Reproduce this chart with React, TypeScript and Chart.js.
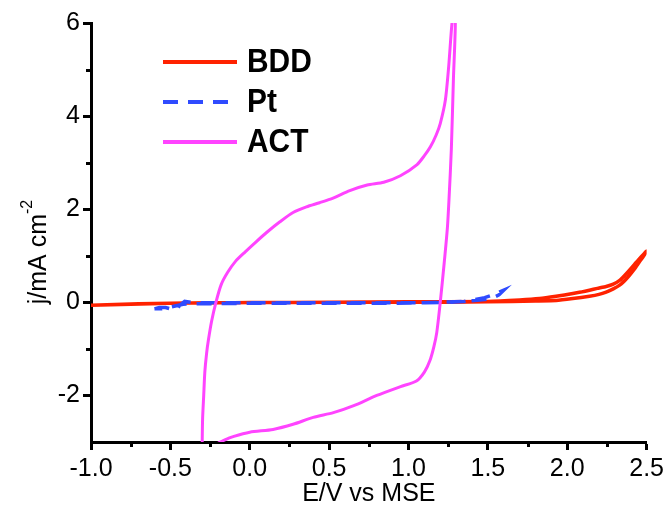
import React, { useEffect, useRef } from "react";
import { Chart, registerables } from "chart.js";

Chart.register(...registerables);

// ---- Data ----
const bddE = [-1.0, -0.8, -0.6, -0.4, -0.2, 0.0, 0.5, 1.0, 1.5, 1.8, 1.93, 2.035, 2.14, 2.2, 2.245, 2.29, 2.33, 2.36, 2.392, 2.425, 2.455, 2.48, 2.5,
  2.48, 2.455, 2.425, 2.392, 2.36, 2.33, 2.29, 2.245, 2.19, 2.14, 2.085, 2.035, 1.93, 1.825, 1.7, 1.5, 1.0, 0.5, 0.0, -0.5, -1.0];
const bddJ = [-0.06, -0.04, -0.025, -0.015, -0.01, -0.005, 0.0, 0.0, 0.01, 0.03, 0.04, 0.08, 0.13, 0.17, 0.22, 0.29, 0.37, 0.46, 0.58, 0.72, 0.87, 0.99, 1.1,
  1.03, 0.94, 0.82, 0.69, 0.57, 0.47, 0.39, 0.34, 0.3, 0.26, 0.22, 0.19, 0.13, 0.08, 0.05, 0.02, 0.01, 0.0, -0.005, -0.02, -0.06];

const ptE = [-0.6, -0.57, -0.53, -0.49, -0.46, -0.44, -0.41, -0.37, -0.3, -0.2, 0.0, 0.3, 0.6, 0.9, 1.1, 1.25, 1.35, 1.42, 1.48, 1.54, 1.6,
  1.57, 1.52, 1.45, 1.35, 1.2, 0.9, 0.6, 0.3, 0.0, -0.3, -0.42, -0.47, -0.52, -0.56, -0.6];
const ptJ = [-0.14, -0.11, -0.11, -0.15, -0.15, -0.06, 0.02, 0.0, -0.01, -0.01, -0.01, -0.01, -0.01, -0.01, -0.01, 0.0, 0.02, 0.06, 0.1, 0.17, 0.26,
  0.16, 0.08, 0.05, 0.02, 0.0, -0.02, -0.02, -0.02, -0.02, -0.03, -0.04, -0.08, -0.12, -0.14, -0.14];

const actE = [-0.3, -0.297, -0.29, -0.283, -0.272, -0.26, -0.24, -0.213, -0.18, -0.14, -0.09, -0.03, 0.04, 0.106, 0.19, 0.273, 0.357, 0.44,
  0.525, 0.63, 0.74, 0.844, 0.949, 1.054, 1.1, 1.138, 1.175, 1.2, 1.232, 1.253, 1.274, 1.285,
  1.295, 1.283, 1.27, 1.255, 1.245, 1.225, 1.2, 1.178, 1.16, 1.135, 1.1, 1.05, 0.95, 0.8, 0.655, 0.527, 0.4, 0.273, 0.147, 0.0, -0.1, -0.16, -0.23];
const actJ = [-3.1, -2.5, -2.0, -1.5, -1.1, -0.8, -0.4, 0.0, 0.38, 0.64, 0.88, 1.08, 1.3, 1.5, 1.73, 1.93, 2.05, 2.14,
  2.24, 2.4, 2.52, 2.58, 2.72, 2.96, 3.15, 3.34, 3.6, 3.84, 4.34, 5.06, 6.0, 6.2,
  6.0, 4.8, 3.3, 2.2, 1.6, 0.85, 0.0, -0.65, -0.95, -1.25, -1.5, -1.69, -1.81, -2.0, -2.22, -2.37, -2.47, -2.62, -2.73, -2.79, -2.88, -2.96, -3.08];

const seriesNames = ["BDD", "Pt", "ACT"];
const xMinorTicks = [-0.75, -0.25, 0.25, 0.75, 1.25, 1.75, 2.25];
const yMinorTicks = [-1, 1, 3, 5];
const xTitle = "E/V vs MSE";
const yTitleMain = "j/mA cm";
const yTitleSup = "-2";

const FONT = "'Liberation Sans', Arial, Helvetica, sans-serif";

function zip(e: number[], j: number[]) {
  return e.map((x, i) => ({ x, y: j[i] }));
}

const decorPlugin = {
  id: "decor",
  afterDraw(chart: any) {
    const ctx = chart.ctx as CanvasRenderingContext2D;
    const xs = chart.scales.x;
    const ys = chart.scales.y;
    const area = chart.chartArea;
    ctx.save();
    // minor ticks
    ctx.strokeStyle = "#000";
    ctx.lineWidth = 3;
    ctx.setLineDash([]);
    for (const v of xMinorTicks) {
      const px = Math.round(xs.getPixelForValue(v)) + 0.5;
      ctx.beginPath();
      ctx.moveTo(px, area.bottom);
      ctx.lineTo(px, area.bottom + 5);
      ctx.stroke();
    }
    for (const v of yMinorTicks) {
      const py = Math.round(ys.getPixelForValue(v)) + 0.5;
      ctx.beginPath();
      ctx.moveTo(area.left, py);
      ctx.lineTo(area.left - 5, py);
      ctx.stroke();
    }
    // y title with superscript
    ctx.fillStyle = "#000";
    ctx.translate(46, 252);
    ctx.rotate(-Math.PI / 2);
    ctx.font = `25px ${FONT}`;
    const w = ctx.measureText(yTitleMain).width;
    ctx.font = `16px ${FONT}`;
    const ws = ctx.measureText(yTitleSup).width;
    const start = -(w + ws) / 2;
    ctx.textBaseline = "alphabetic";
    ctx.textAlign = "left";
    ctx.font = `25px ${FONT}`;
    ctx.fillText(yTitleMain, start, 0);
    ctx.font = `16px ${FONT}`;
    ctx.fillText(yTitleSup, start + w, -14);
    ctx.restore();

    // legend
    ctx.save();
    chart.data.datasets.forEach((ds: any, i: number) => {
      const y = 62 + 40 * i;
      ctx.strokeStyle = ds.borderColor;
      ctx.lineWidth = 4;
      ctx.setLineDash(ds.borderDash || []);
      ctx.beginPath();
      ctx.moveTo(163, y);
      ctx.lineTo(237, y);
      ctx.stroke();
      ctx.setLineDash([]);
      ctx.save();
      ctx.translate(247, y + 1);
      ctx.scale(0.88, 1);
      ctx.fillStyle = "#000";
      ctx.font = `bold 34px ${FONT}`;
      ctx.textBaseline = "middle";
      ctx.textAlign = "left";
      ctx.fillText(ds.label, 0, 0);
      ctx.restore();
    });
    ctx.restore();
  },
};

export default function App() {
  const ref = useRef<HTMLCanvasElement | null>(null);
  useEffect(() => {
    if (!ref.current) return;
    Chart.defaults.font.family = FONT;
    Chart.defaults.color = "#000";
    const chart = new Chart(ref.current, {
      type: "scatter",
      data: {
        datasets: [
          {
            label: seriesNames[0],
            data: zip(bddE, bddJ),
            showLine: true,
            borderColor: "#ff2200",
            borderWidth: 3.5,
            tension: 0.15,
            pointRadius: 0,
            order: 3,
          },
          {
            label: seriesNames[1],
            data: zip(ptE, ptJ),
            showLine: true,
            borderColor: "#2f4bff",
            borderWidth: 3.5,
            borderDash: [15, 10],
            tension: 0,
            pointRadius: 0,
            order: 2,
          },
          {
            label: seriesNames[2],
            data: zip(actE, actJ),
            showLine: true,
            borderColor: "#ff44ff",
            borderWidth: 3,
            tension: 0.25,
            pointRadius: 0,
            order: 1,
          },
        ],
      },
      options: {
        responsive: false,
        animation: false,
        events: [],
        layout: { padding: { top: 23, right: 21, left: 0, bottom: 0 } },
        plugins: {
          legend: { display: false },
          tooltip: { enabled: false },
        },
        scales: {
          x: {
            type: "linear",
            min: -1,
            max: 2.5,
            afterFit: (s: any) => {
              s.height = 78;
            },
            ticks: {
              stepSize: 0.5,
              padding: 4,
              font: { size: 25 },
              color: "#000",
              maxRotation: 0,
              callback: (v: any) => Number(v).toFixed(1),
            },
            grid: {
              display: true,
              drawOnChartArea: false,
              drawTicks: true,
              tickLength: 8,
              tickWidth: 3,
              tickColor: "#000",
            },
            border: { display: true, width: 3, color: "#000" },
            title: {
              display: true,
              text: xTitle,
              font: { size: 25 },
              color: "#000",
              padding: { top: 0, bottom: 11 },
            },
          },
          y: {
            type: "linear",
            min: -3,
            max: 6,
            afterFit: (s: any) => {
              s.width = 91;
            },
            ticks: {
              stepSize: 2,
              includeBounds: false,
              padding: 3,
              font: { size: 25 },
              color: "#000",
              callback: (v: any) => String(v),
            },
            grid: {
              display: true,
              drawOnChartArea: false,
              drawTicks: true,
              tickLength: 8,
              tickWidth: 3,
              tickColor: "#000",
            },
            border: { display: true, width: 3, color: "#000" },
          },
        },
      },
      plugins: [decorPlugin],
    });
    return () => chart.destroy();
  }, []);
  return (
    <div style={{ position: "fixed", left: 0, top: 0, width: 668, height: 520, background: "#fff" }}>
      <canvas ref={ref} width={668} height={520} style={{ display: "block" }} />
    </div>
  );
}
